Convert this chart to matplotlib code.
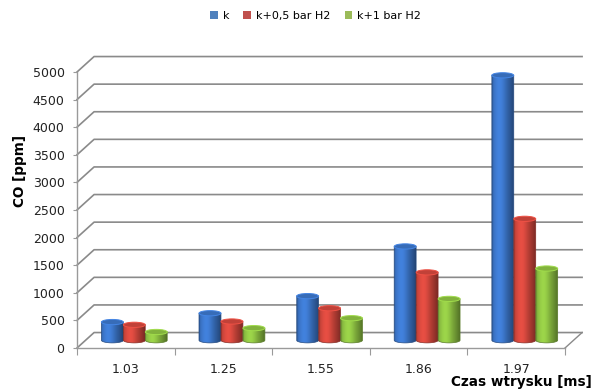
import numpy as np
import matplotlib
matplotlib.use("Agg")
import matplotlib.pyplot as plt
from matplotlib.path import Path
from matplotlib.patches import PathPatch, Ellipse, Patch
from matplotlib.colors import to_rgb

# CO emission vs injection time for three hydrogen settings
categories = ["1.03", "1.25", "1.55", "1.86", "1.97"]
co_k = [330, 490, 800, 1700, 4800]
co_k05 = [280, 340, 580, 1230, 2200]
co_k1 = [150, 220, 400, 750, 1300]
series_names = ["k", "k+0,5 bar H2", "k+1 bar H2"]
y_ticks = list(range(0, 5001, 500))

series = [co_k, co_k05, co_k1]
legend_colors = ["#4f81bd", "#c0504d", "#9bbb59"]
body_colors = ["#3b74c6", "#cf463c", "#8cbf42"]

DX = 0.175      # depth offset of back wall, category units
DY = 280        # depth offset of back wall, ppm units
BW = 0.225      # cylinder width
EH = 95         # cylinder cap height (ppm units)
GRID = "#8a8a8a"

fig = plt.figure(figsize=(5.93, 3.92), dpi=100)
ax = fig.add_axes([77 / 593, 44 / 392, 488 / 593, 276 / 392])
ax.set_xlim(-0.5, len(categories) - 0.5)
ax.set_ylim(0, 5000)

# back wall gridlines with the side wall diagonals
x_left, x_right = -0.5, len(categories) - 0.5
for v in y_ticks:
    ax.plot([x_left, x_left + DX, x_right + DX], [v, v + DY, v + DY],
            color=GRID, lw=1.2, clip_on=False, zorder=1)
ax.plot([x_right, x_right + DX], [0, DY], color=GRID, lw=1.0,
        clip_on=False, zorder=1)


def shade(color, n=64):
    base = np.array(to_rgb(color))
    t = np.linspace(0, 1, n)
    f = 0.8 + 0.32 * np.exp(-((t - 0.33) / 0.33) ** 2) - 0.22 * t ** 5
    f[:3] *= 0.85
    rgb = np.clip(base[None, :] * f[:, None], 0, 1)
    return rgb[None, :, :]


def cylinder(xc, base, value, color, z):
    x0, x1 = xc - BW / 2, xc + BW / 2
    top = base + value
    th = np.linspace(np.pi, 2 * np.pi, 40)
    bx = xc + BW / 2 * np.cos(th)
    by = base + EH / 2 * np.sin(th)
    verts = list(zip(bx, by)) + [(x1, top), (x0, top), (x0, base)]
    codes = [Path.MOVETO] + [Path.LINETO] * (len(verts) - 2) + [Path.CLOSEPOLY]
    rgb = np.array(to_rgb(color))
    body = PathPatch(Path(verts, codes), facecolor="none",
                     edgecolor=rgb * 0.65, lw=0.5, zorder=z + 0.1)
    ax.add_patch(body)
    im = ax.imshow(shade(color), extent=[x0, x1, base - EH / 2, top],
                   aspect="auto", interpolation="bilinear", zorder=z)
    im.set_clip_path(body)
    ax.add_patch(Ellipse((xc, top), BW, EH, facecolor=rgb * 0.93,
                         edgecolor=np.clip(rgb * 1.15, 0, 1), lw=0.7,
                         zorder=z + 0.2))


z = 3
for j in range(len(categories)):
    for i, vals in enumerate(series):
        xc = j + (i - 1) * BW + DX / 2
        cylinder(xc, DY / 2, vals[j], body_colors[i], z)
        z += 1

ax.set_xlim(x_left, x_right)
ax.set_ylim(0, 5000)

for side in ["top", "right"]:
    ax.spines[side].set_visible(False)
for side in ["left", "bottom"]:
    ax.spines[side].set_color("#9a9a9a")
    ax.spines[side].set_linewidth(1.0)

ax.set_yticks(y_ticks)
ax.set_yticklabels([str(v) for v in y_ticks], fontsize=9, color="#222222")
ax.tick_params(axis="y", direction="out", length=3, color="#9a9a9a", pad=6)

ax.set_xticks(np.arange(-0.5, len(categories), 1.0))
ax.set_xticklabels([])
ax.set_xticks(np.arange(len(categories)), minor=True)
ax.set_xticklabels(categories, minor=True, fontsize=9, color="#222222")
ax.tick_params(axis="x", which="major", direction="out", length=5, color="#9a9a9a")
ax.tick_params(axis="x", which="minor", length=0, pad=11)

ax.set_ylabel("CO [ppm]", fontsize=9.8, fontweight="bold")
ax.yaxis.set_label_coords(-0.102, 0.641)
fig.text(592 / 593, 1 - 382 / 392, "Czas wtrysku [ms]", fontsize=9.8,
         fontweight="bold", ha="right", va="center")

handles = [Patch(facecolor=c, edgecolor="none", label=n)
           for c, n in zip(legend_colors, series_names)]
fig.legend(handles=handles, loc="center", bbox_to_anchor=(0.532, 1 - 16 / 392),
           ncol=3, frameon=False, fontsize=8, handlelength=0.7,
           handleheight=0.7, handletextpad=0.4, columnspacing=1.3)

fig.savefig("out.png", dpi=100)
